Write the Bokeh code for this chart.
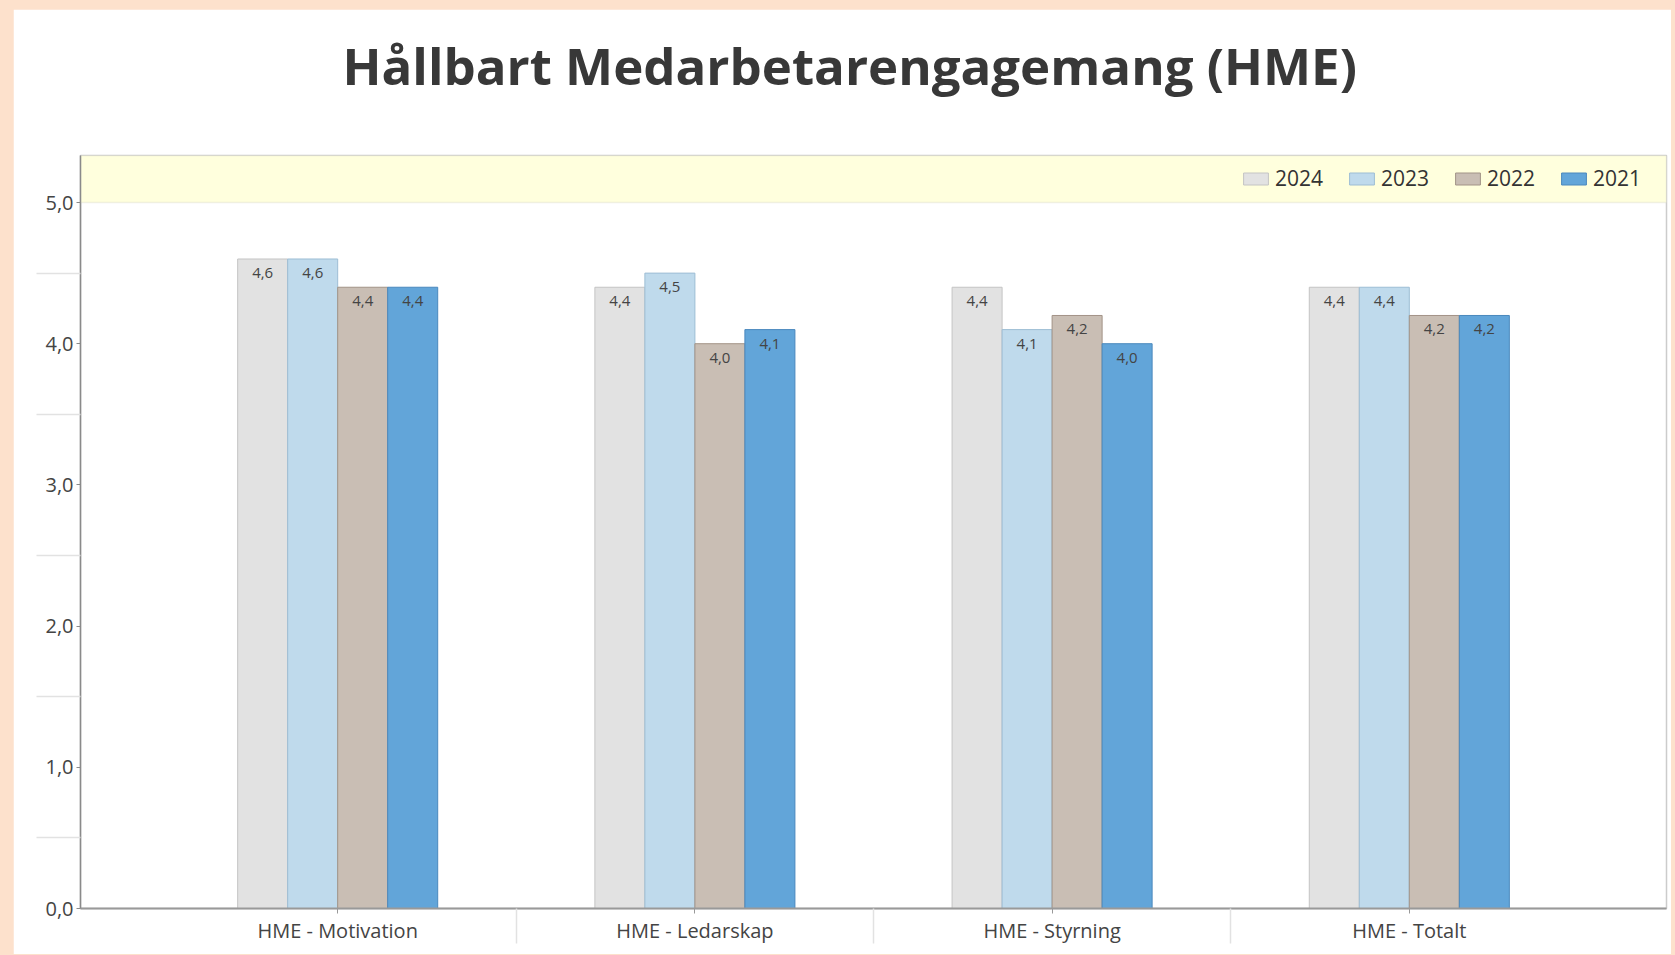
import numpy as np
from bokeh.plotting import figure
from bokeh.models import (Range1d, FixedTicker, ColumnDataSource, Legend, LegendItem,
                          BoxAnnotation, Title, GlobalInlineStyleSheet)
from bokeh.core.properties import value
from bokeh.embed import file_html
from bokeh.resources import INLINE

# ---------------- data ----------------
title_text = "Hållbart Medarbetarengagemang (HME)"
categories = ["HME - Motivation", "HME - Ledarskap", "HME - Styrning", "HME - Totalt"]
years = ["2024", "2023", "2022", "2021"]
v2024 = [4.6, 4.4, 4.4, 4.4]
v2023 = [4.6, 4.5, 4.1, 4.4]
v2022 = [4.4, 4.0, 4.2, 4.2]
v2021 = [4.4, 4.1, 4.0, 4.2]
y_ticks = [0, 1, 2, 3, 4, 5]
y_tick_labels = ["0,0", "1,0", "2,0", "3,0", "4,0", "5,0"]

# ---------------- style ----------------
FONT = "Open Sans"
series = [v2024, v2023, v2022, v2021]
fills = ["#E2E2E2", "#BFDAEC", "#C9BEB4", "#62A5D9"]
lines = ["#C4C4C4", "#9DBDD4", "#A29387", "#4A88BD"]
offsets = [-0.21, -0.07, 0.07, 0.21]
bar_w = 0.14

n = len(categories)
centers = np.arange(n) + 0.5

p = figure(frame_width=1586, frame_height=753,
           min_border_left=67, min_border_right=5, min_border_top=145, min_border_bottom=46,
           x_range=Range1d(-0.22, n + 0.22), y_range=Range1d(0, 5.333),
           output_backend="svg", toolbar_location=None, title=None)
p.margin = (9, 0, 0, 13)
p.stylesheets = [GlobalInlineStyleSheet(css="body { background-color: #FDE1CC; }")]
p.background_fill_color = "white"
p.border_fill_color = "white"
p.outline_line_color = "#cccccc"
p.outline_line_width = 1.5
p.xgrid.visible = False
p.ygrid.visible = False

# legend band
p.add_layout(BoxAnnotation(bottom=5, fill_color="#FFFFDD", fill_alpha=1,
                           line_color="#CDCDBE", line_width=1.5, level="underlay"))

items = []
for yr, vals, off, fc, lc in zip(years, series, offsets, fills, lines):
    src = ColumnDataSource(dict(x=centers + off, top=vals,
                                label=[f"{v:.1f}".replace(".", ",") for v in vals]))
    r = p.vbar(x="x", top="top", bottom=0, width=bar_w, source=src,
               fill_color=fc, line_color=lc, line_width=1)
    p.text(x="x", y="top", text="label", source=src, text_align="center",
           text_baseline="middle", y_offset=14, text_font=value(FONT),
           text_font_size="15px", text_color="#444444")
    items.append(LegendItem(label=yr, renderers=[r]))

legend = Legend(items=items, orientation="horizontal", location=(1160, 716),
                glyph_width=31, glyph_height=15, label_standoff=4, spacing=23,
                padding=0, margin=0, background_fill_alpha=0, border_line_alpha=0,
                label_text_font=FONT, label_text_font_size="21px", label_text_color="#333333")
p.add_layout(legend)

# x axis
xa = p.xaxis[0]
xa.ticker = FixedTicker(ticks=[float(c) for c in centers],
                        minor_ticks=[float(v) for v in np.arange(1, n)])
xa.major_label_overrides = {float(c): cat for c, cat in zip(centers, categories)}
xa.axis_line_color = "#999999"
xa.axis_line_width = 2
xa.major_tick_out = 5
xa.major_tick_in = 0
xa.major_tick_line_color = "#999999"
xa.minor_tick_out = 35
xa.minor_tick_in = 0
xa.minor_tick_line_color = "#e2e2e2"
xa.minor_tick_line_width = 1.5
xa.major_label_standoff = -27
xa.major_label_text_font = FONT
xa.major_label_text_font_size = "20px"
xa.major_label_text_color = "#444444"

# y axis
ya = p.yaxis[0]
ya.ticker = FixedTicker(ticks=y_ticks, minor_ticks=[float(v) for v in np.arange(0.5, 5, 1)])
ya.major_label_overrides = {t: s for t, s in zip(y_ticks, y_tick_labels)}
ya.axis_line_color = "#8a8a8a"
ya.axis_line_width = 1.5
ya.major_tick_out = 4
ya.major_tick_in = 0
ya.major_tick_line_color = "#8a8a8a"
ya.minor_tick_out = 44
ya.minor_tick_in = 0
ya.minor_tick_line_color = "#e2e2e2"
ya.minor_tick_line_width = 1.5
ya.major_label_standoff = -37
ya.major_label_text_font = FONT
ya.major_label_text_font_size = "20px"
ya.major_label_text_color = "#444444"

# spacer between plot frame and title, then the title itself
p.add_layout(Title(text=" ", text_font_size="2px", standoff=34), "above")
p.add_layout(Title(text=title_text, align="left", offset=262, standoff=36,
                   text_font=FONT, text_font_style="bold", text_font_size="51px",
                   text_color="#383838"), "above")

open("out.html", "w").write(file_html(p, INLINE))
